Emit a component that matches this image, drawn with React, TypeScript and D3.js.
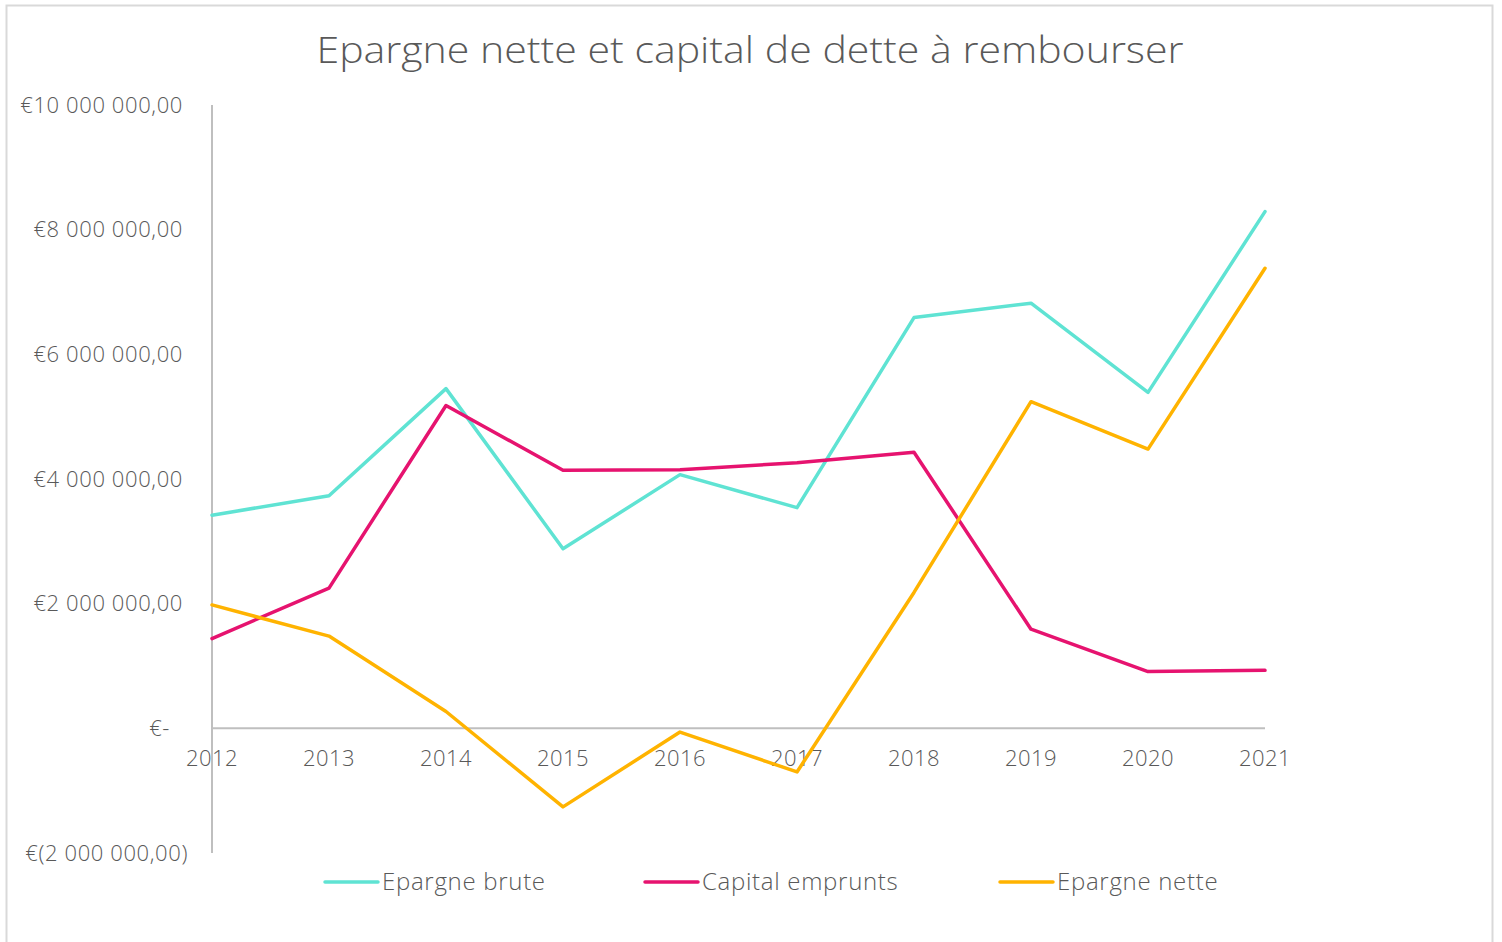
import React from "react";
import * as d3 from "d3";

const years = ["2012", "2013", "2014", "2015", "2016", "2017", "2018", "2019", "2020", "2021"];
const epargneBrute = [3420000, 3730000, 5450000, 2880000, 4070000, 3540000, 6590000, 6820000, 5390000, 8290000];
const capitalEmprunts = [1440000, 2250000, 5180000, 4140000, 4150000, 4260000, 4430000, 1590000, 910000, 930000];
const epargneNette = [1980000, 1480000, 270000, -1260000, -60000, -700000, 2180000, 5240000, 4480000, 7380000];
const yTicks = [-2000000, 0, 2000000, 4000000, 6000000, 8000000, 10000000];
const seriesNames = ["Epargne brute", "Capital emprunts", "Epargne nette"];
const seriesColors = ["#5FE3D3", "#E6136F", "#FFB300"];
const title = "Epargne nette et capital de dette à rembourser";

const FONT = "'Open Sans', Lato, sans-serif";
const TEXT = "#595959";

function fmt(v: number): string {
  if (v === 0) return "€-";
  const abs = Math.abs(v);
  const s = d3.format(",.2f")(abs).replace(/,/g, " ").replace(".", ",");
  return v < 0 ? `€(${s})` : `€${s}`;
}

export default function App() {
  const W = 1502, H = 942;
  const x = d3.scalePoint<string>().domain(years).range([212, 1265]);
  const y = d3.scaleLinear().domain([-2000000, 10000000]).range([853, 105]);
  const series = [epargneBrute, capitalEmprunts, epargneNette];
  const line = d3.line<number>().x((_, i) => x(years[i]) as number).y((d) => y(d));
  const legendX = [325, 645, 1000];

  return (
    <svg width={W} height={H} style={{ position: "absolute", left: 0, top: 0, background: "#fff" }}>
      <rect x={6.5} y={5.5} width={1486} height={H + 10} fill="#fff" stroke="#d9d9d9" strokeWidth={2} />
      <text x={750} y={63} textAnchor="middle" fontFamily={FONT} fontSize={36} fontWeight={300} fill={TEXT}
        textLength={867} lengthAdjust="spacingAndGlyphs">{title}</text>
      {/* axes */}
      <line x1={212} x2={212} y1={y(10000000)} y2={y(-2000000)} stroke="#bfbfbf" strokeWidth={2} />
      <line x1={212} x2={1265} y1={y(0)} y2={y(0)} stroke="#bfbfbf" strokeWidth={2} />
      {yTicks.map((t) => (
        <text key={t} x={t < 0 ? 188 : t === 0 ? 170 : 183} y={y(t)} dy="0.35em" textAnchor="end"
          fontFamily={FONT} fontSize={22} fontWeight={300} letterSpacing={0.6} fill={TEXT}>{fmt(t)}</text>
      ))}
      {years.map((yr) => (
        <text key={yr} x={x(yr)} y={y(0) + 30} dy="0.35em" textAnchor="middle"
          fontFamily={FONT} fontSize={22} fontWeight={300} letterSpacing={0.4} fill={TEXT}>{yr}</text>
      ))}
      {series.map((s, i) => (
        <path key={i} d={line(s) || ""} fill="none" stroke={seriesColors[i]} strokeWidth={3.5}
          strokeLinejoin="round" strokeLinecap="round" />
      ))}
      {seriesNames.map((n, i) => (
        <g key={n}>
          <line x1={legendX[i]} x2={legendX[i] + 53} y1={882} y2={882} stroke={seriesColors[i]} strokeWidth={3.5} strokeLinecap="round" />
          <text x={legendX[i] + 57} y={882} dy="0.35em" fontFamily={FONT} fontSize={24} fontWeight={300} letterSpacing={0.7} fill={TEXT}>{n}</text>
        </g>
      ))}
    </svg>
  );
}
